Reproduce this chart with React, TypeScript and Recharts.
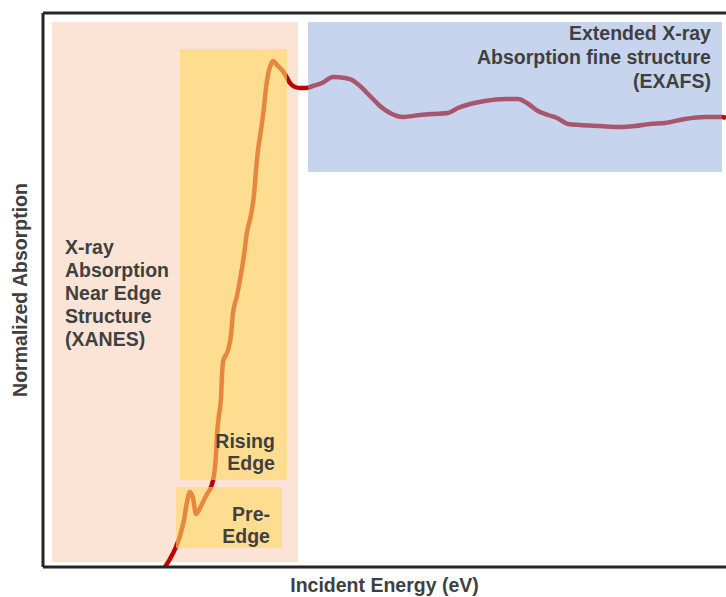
import React from 'react';
import { LineChart, Line, XAxis, YAxis, ReferenceArea, ReferenceLine, Label } from 'recharts';

// Incident energy (arbitrary units, 0-100 across the plot)
const energy = [
  17.86, 18.59, 19.47, 20.06, 20.64, 21.08, 21.52, 21.96, 22.4, 22.84, 23.43, 24.01, 24.6, 25.04,
  25.33, 25.48, 25.77, 26.06, 26.21, 26.35, 27.09, 27.53, 27.82, 28.4, 28.84, 29.43, 29.87, 30.45,
  30.89, 31.19, 31.48, 31.92, 32.36, 32.65, 32.94, 33.38, 33.67, 34.26, 34.99, 35.58, 36.16, 36.9,
  37.63, 38.51, 39.53, 40.85, 42.46, 44.22, 45.24, 46.41, 47.88, 49.34, 50.81, 52.71, 55.2, 56.95,
  59.3, 60.76, 62.52, 64.71, 67.64, 69.55, 70.86, 72.47, 73.94, 75.26, 76.87, 78.62, 81.55, 84.48,
  86.68, 88.87, 91.07, 93.99, 96.93, 99.41, 100,
];
// Normalized absorption (0-100)
const absorption = [
  0, 1.44, 3.61, 5.6, 8.48, 11.73, 13.54, 12.45, 9.57, 10.29, 11.73, 13.18, 14.44, 16.61,
  20.22, 23.83, 27.44, 30.51, 34.66, 37.0, 39.17, 41.88, 45.85, 48.92, 51.81, 56.32, 60.47, 63.54,
  67.15, 71.66, 75.27, 78.88, 83.03, 86.46, 88.81, 90.79, 91.34, 90.61, 89.71, 88.63, 87.36, 86.64,
  86.46, 86.46, 86.82, 87.36, 88.45, 88.27, 87.91, 86.82, 85.02, 83.21, 81.95, 81.23, 81.59, 81.77,
  81.95, 82.85, 83.57, 84.12, 84.48, 84.48, 83.75, 82.31, 81.59, 81.05, 79.96, 79.78, 79.6, 79.42,
  79.6, 79.96, 80.14, 80.87, 81.23, 81.23, 81.05,
];

// Region boundaries [x1, x2, y1, y2]
const xanesRegion = [1.32, 37.34, 0.9, 98.38];
const risingRegion = [20.06, 35.72, 15.7, 93.5];
const preEdgeRegion = [19.47, 34.99, 3.43, 14.44];
const exafsRegion = [38.8, 99.41, 71.3, 98.38];

const xanesText = ['X-ray', 'Absorption', 'Near Edge', 'Structure', '(XANES)'];
const risingText = ['Rising', 'Edge'];
const preEdgeText = ['Pre-', 'Edge'];
const exafsText = ['Extended X-ray', 'Absorption fine structure', '(EXAFS)'];

const xLabel = 'Incident Energy (eV)';
const yLabel = 'Normalized Absorption';

const data = energy.map((e, i) => ({ energy: e, absorption: absorption[i] }));

const FONT = '"Liberation Sans", Arial, sans-serif';
const TEXT_COLOR = '#404040';
const FS = 19.5;
const LH = 23;

type LabelProps = {
  viewBox?: { x: number; y: number; width: number; height: number };
  lines: string[];
  mode: 'leftCenter' | 'rightBottom' | 'rightTop';
  pad?: number;
};

const MultiLabel = (props: LabelProps) => {
  const vb = props.viewBox || { x: 0, y: 0, width: 0, height: 0 };
  const { lines, mode } = props;
  const pad = props.pad ?? 10;
  let x = 0;
  let anchor: 'start' | 'end' = 'start';
  let firstBaseline = 0;
  if (mode === 'leftCenter') {
    x = vb.x + 13;
    anchor = 'start';
    const mid = vb.y + vb.height / 2;
    firstBaseline = mid + 8 - ((lines.length - 1) / 2) * LH;
  } else if (mode === 'rightBottom') {
    x = vb.x + vb.width - 12;
    anchor = 'end';
    firstBaseline = vb.y + vb.height - pad - (lines.length - 1) * 22;
  } else {
    x = vb.x + vb.width - 11;
    anchor = 'end';
    firstBaseline = vb.y + 18;
  }
  const lh = mode === 'rightBottom' ? 22 : mode === 'rightTop' ? 24 : LH;
  return (
    <g>
      {lines.map((t, i) => (
        <text
          key={i}
          x={x}
          y={firstBaseline + i * lh}
          textAnchor={anchor}
          fontFamily={FONT}
          fontWeight="bold"
          fontSize={FS}
          fill={TEXT_COLOR}
        >
          {t}
        </text>
      ))}
    </g>
  );
};

const AXIS_STROKE = '#262626';

export default function App() {
  return (
    <div style={{ position: 'absolute', left: 0, top: 0, width: 726, height: 597, background: '#fff', overflow: 'hidden' }}>
      <LineChart
        width={726}
        height={597}
        data={data}
        margin={{ top: 13, right: 0, bottom: 0, left: 0 }}
      >
        <XAxis
          type="number"
          dataKey="energy"
          domain={[0, 100]}
          allowDataOverflow
          tick={false}
          tickLine={false}
          height={30}
          axisLine={{ stroke: AXIS_STROKE, strokeWidth: 3 }}
        >
          <Label
            value={xLabel}
            position="insideBottom"
            offset={5}
            style={{ fontFamily: FONT, fontWeight: 'bold', fontSize: FS, fill: TEXT_COLOR }}
          />
        </XAxis>
        <YAxis
          type="number"
          domain={[0, 100]}
          allowDataOverflow
          tick={false}
          tickLine={false}
          width={43}
          axisLine={{ stroke: AXIS_STROKE, strokeWidth: 3 }}
        >
          <Label
            value={yLabel}
            angle={-90}
            position="insideLeft"
            offset={20}
            style={{ fontFamily: FONT, fontWeight: 'bold', fontSize: FS, fill: TEXT_COLOR, textAnchor: 'middle' }}
          />
        </YAxis>
        <ReferenceArea
          x1={xanesRegion[0]}
          x2={xanesRegion[1]}
          y1={xanesRegion[2]}
          y2={xanesRegion[3]}
          fill="#FBE4D6"
          fillOpacity={1}
          stroke="none"
          label={<MultiLabel lines={xanesText} mode="leftCenter" />}
        />
        <Line
          type="monotone"
          dataKey="absorption"
          stroke="#C00000"
          strokeWidth={4.5}
          dot={false}
          isAnimationActive={false}
        />
        <ReferenceArea
          x1={risingRegion[0]}
          x2={risingRegion[1]}
          y1={risingRegion[2]}
          y2={risingRegion[3]}
          fill="#FFD966"
          fillOpacity={0.62}
          stroke="none"
          zIndex={450}
          label={<MultiLabel lines={risingText} mode="rightBottom" pad={10} />}
        />
        <ReferenceArea
          x1={preEdgeRegion[0]}
          x2={preEdgeRegion[1]}
          y1={preEdgeRegion[2]}
          y2={preEdgeRegion[3]}
          fill="#FFD966"
          fillOpacity={0.62}
          stroke="none"
          zIndex={450}
          label={<MultiLabel lines={preEdgeText} mode="rightBottom" pad={5} />}
        />
        <ReferenceArea
          x1={exafsRegion[0]}
          x2={exafsRegion[1]}
          y1={exafsRegion[2]}
          y2={exafsRegion[3]}
          fill="#8FAADC"
          fillOpacity={0.5}
          stroke="none"
          zIndex={450}
          label={<MultiLabel lines={exafsText} mode="rightTop" />}
        />
        <ReferenceLine y={100} stroke={AXIS_STROKE} strokeWidth={3} />
      </LineChart>
    </div>
  );
}
